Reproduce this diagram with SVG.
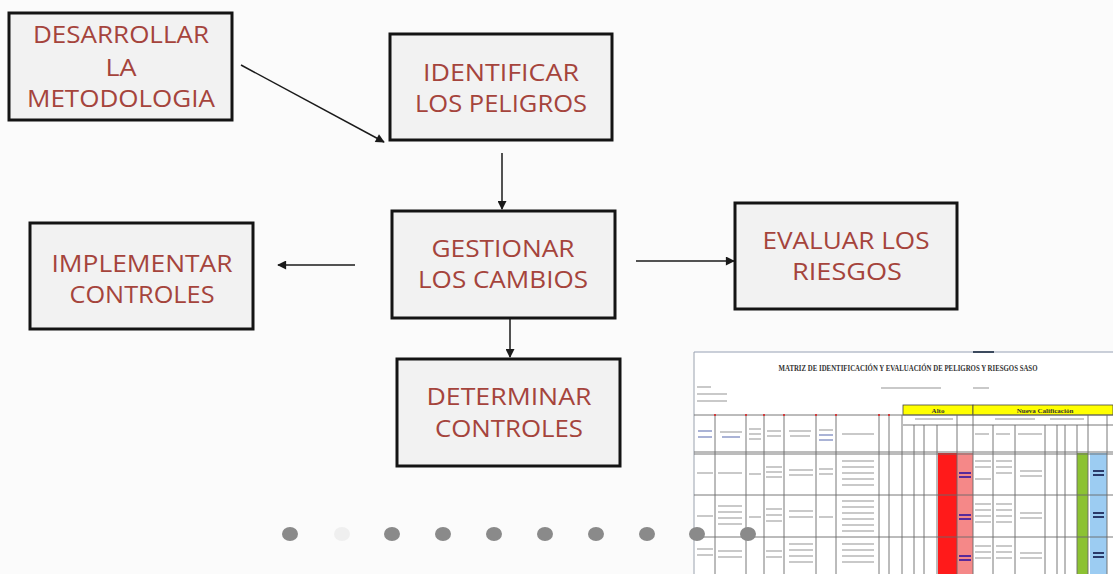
<svg xmlns="http://www.w3.org/2000/svg" width="1113" height="574" viewBox="0 0 1113 574">
<defs>
<style>
.box{fill:#f2f2f2;stroke:#141414;stroke-width:3}
.lbl{font-family:"Open Sans","Noto Sans","Liberation Sans",sans-serif;font-size:24px;fill:#a5443c;text-anchor:middle}
.con{stroke:#1a1a1a;stroke-width:1.5;fill:none;marker-end:url(#ah)}
.grid{stroke:#6a6a6a;stroke-width:0.9;fill:none}
.blur{fill:#c9c9c9}
.dot{fill:#8a8a8a}
.tiny{font-family:"Liberation Serif",serif;font-weight:bold;fill:#333}
</style>
<marker id="ah" viewBox="0 0 10 10" refX="9" refY="5" markerWidth="10" markerHeight="9" markerUnits="userSpaceOnUse" orient="auto">
<path d="M0,0 L10,5 L0,10 z" fill="#1a1a1a"/>
</marker>
</defs>
<rect x="0" y="0" width="1113" height="574" fill="#fbfbfb"/>

<g id="connectors">
<line class="con" x1="241" y1="65" x2="384" y2="142"/>
<line class="con" x1="502" y1="153" x2="502" y2="209"/>
<line class="con" x1="510" y1="318" x2="510" y2="357"/>
<line class="con" x1="636" y1="261" x2="734" y2="261"/>
<line class="con" x1="355" y1="265" x2="278" y2="265"/>
</g>

<g id="node-desarrollar">
<rect class="box" x="9" y="13" width="223" height="107"/>
<text class="lbl" x="121" y="43" textLength="176" lengthAdjust="spacingAndGlyphs">DESARROLLAR</text>
<text class="lbl" x="121" y="76" textLength="31" lengthAdjust="spacingAndGlyphs">LA</text>
<text class="lbl" x="121" y="107" textLength="188" lengthAdjust="spacingAndGlyphs">METODOLOGIA</text>
</g>

<g id="node-identificar">
<rect class="box" x="390" y="34" width="222" height="106"/>
<text class="lbl" x="501" y="81" textLength="156" lengthAdjust="spacingAndGlyphs">IDENTIFICAR</text>
<text class="lbl" x="501" y="112" textLength="172" lengthAdjust="spacingAndGlyphs">LOS PELIGROS</text>
</g>

<g id="node-gestionar">
<rect class="box" x="392" y="211" width="223" height="107"/>
<text class="lbl" x="503" y="257" textLength="143" lengthAdjust="spacingAndGlyphs">GESTIONAR</text>
<text class="lbl" x="503" y="288" textLength="170" lengthAdjust="spacingAndGlyphs">LOS CAMBIOS</text>
</g>

<g id="node-determinar">
<rect class="box" x="397" y="359" width="223" height="107"/>
<text class="lbl" x="509" y="405" textLength="165" lengthAdjust="spacingAndGlyphs">DETERMINAR</text>
<text class="lbl" x="509" y="437" textLength="148" lengthAdjust="spacingAndGlyphs">CONTROLES</text>
</g>

<g id="node-evaluar">
<rect class="box" x="735" y="203" width="222" height="106"/>
<text class="lbl" x="846" y="249" textLength="167" lengthAdjust="spacingAndGlyphs">EVALUAR LOS</text>
<text class="lbl" x="847" y="280" textLength="110" lengthAdjust="spacingAndGlyphs">RIESGOS</text>
</g>

<g id="node-implementar">
<rect class="box" x="30" y="223" width="223" height="106"/>
<text class="lbl" x="142" y="272" textLength="181" lengthAdjust="spacingAndGlyphs">IMPLEMENTAR</text>
<text class="lbl" x="142" y="303" textLength="145" lengthAdjust="spacingAndGlyphs">CONTROLES</text>
</g>

<g id="matrix">
<rect x="694" y="352" width="419" height="222" fill="#ffffff"/>
<line x1="694" y1="352" x2="1113" y2="352" stroke="#b8bfcc" stroke-width="1.5"/>
<line x1="973" y1="352" x2="994" y2="352" stroke="#3c4a5e" stroke-width="2"/>
<line x1="694" y1="352" x2="694" y2="574" stroke="#9aa2ae" stroke-width="1"/>
<text class="tiny" font-size="9" text-anchor="middle" transform="translate(908,371) scale(0.76,1)">MATRIZ DE IDENTIFICACIÓN Y EVALUACIÓN DE  PELIGROS Y RIESGOS SASO</text>
<rect class="blur" x="697" y="386" width="14" height="2"/>
<rect class="blur" x="697" y="393" width="30" height="2"/>
<rect class="blur" x="697" y="400" width="30" height="2"/>
<rect class="blur" x="881" y="387" width="60" height="2" fill="#b3b3c9"/>
<rect class="blur" x="973" y="387" width="16" height="2"/>
<rect x="903" y="405" width="70" height="10" fill="#ffff00" stroke="#444" stroke-width="0.8"/>
<rect x="973" y="405" width="140" height="10" fill="#ffff00" stroke="#444" stroke-width="0.8"/>
<text class="tiny" x="938" y="413" font-size="7" text-anchor="middle" fill="#6b6b00">Alto</text>
<text class="tiny" x="1045" y="413" font-size="7" text-anchor="middle" fill="#6b6b00">Nueva Calificación</text>
<rect x="938" y="453" width="19" height="121" fill="#ff1a1a"/>
<rect x="957" y="453" width="16" height="121" fill="#f58888"/>
<rect x="1077" y="453" width="11" height="121" fill="#8cc232"/>
<rect x="1090" y="453" width="17" height="121" fill="#9cccf2"/>
<path class="grid" d="M694,415H1113M903,425H1113M694,452H1113M694,454H1113M694,495H1113M694,537H1113"/>
<path class="grid" d="M715,415V574M746,415V574M764,415V574M784,415V574M816,415V574M836,415V574M879,415V574M889,415V574M902,415V574M914,425V574M924,425V574M937,425V574M957,415V574M973,415V574M993,425V574M1015,425V574M1045,425V574M1057,425V574M1065,425V574M1077,425V574M1088,415V574M1107,415V574"/>
<g fill="#d23b3b">
<rect x="714" y="414" width="2" height="2"/><rect x="745" y="414" width="2" height="2"/><rect x="763" y="414" width="2" height="2"/><rect x="783" y="414" width="2" height="2"/><rect x="815" y="414" width="2" height="2"/><rect x="835" y="414" width="2" height="2"/><rect x="878" y="414" width="2" height="2"/><rect x="888" y="414" width="2" height="2"/>
</g>
<g class="blur">
<rect x="698" y="430" width="14" height="2" fill="#aab3d6"/><rect x="698" y="436" width="14" height="2" fill="#aab3d6"/>
<rect x="720" y="431" width="22" height="2"/><rect x="722" y="436" width="18" height="2" fill="#aab3d6"/>
<rect x="749" y="428" width="12" height="2"/><rect x="749" y="433" width="12" height="2"/><rect x="749" y="438" width="12" height="2"/>
<rect x="767" y="430" width="14" height="2"/><rect x="767" y="435" width="14" height="2"/>
<rect x="789" y="430" width="22" height="2"/><rect x="790" y="435" width="20" height="2"/>
<rect x="819" y="429" width="14" height="2"/><rect x="819" y="434" width="14" height="2" fill="#aab3d6"/><rect x="819" y="439" width="14" height="2" fill="#aab3d6"/>
<rect x="842" y="433" width="32" height="2"/>
<rect x="975" y="433" width="14" height="2"/><rect x="996" y="433" width="14" height="2"/><rect x="1018" y="433" width="24" height="2"/>
<rect x="915" y="418" width="38" height="2"/><rect x="995" y="418" width="40" height="2"/><rect x="1050" y="418" width="34" height="2"/>
<rect x="697" y="472" width="16" height="2"/><rect x="718" y="472" width="24" height="2"/><rect x="749" y="473" width="12" height="2"/>
<rect x="766" y="466" width="16" height="2"/><rect x="766" y="471" width="16" height="2"/><rect x="766" y="476" width="16" height="2"/>
<rect x="789" y="469" width="24" height="2"/><rect x="789" y="474" width="24" height="2"/><rect x="819" y="468" width="14" height="2"/><rect x="819" y="473" width="14" height="2"/>
<rect x="842" y="460" width="32" height="2"/><rect x="842" y="466" width="32" height="2"/><rect x="842" y="472" width="32" height="2"/><rect x="842" y="478" width="32" height="2"/><rect x="842" y="484" width="32" height="2"/>
<rect x="697" y="515" width="16" height="2"/><rect x="718" y="505" width="24" height="2"/><rect x="718" y="511" width="24" height="2"/><rect x="718" y="517" width="24" height="2"/><rect x="718" y="523" width="24" height="2"/>
<rect x="749" y="516" width="12" height="2"/><rect x="766" y="508" width="16" height="2"/><rect x="766" y="514" width="16" height="2"/><rect x="766" y="520" width="16" height="2"/>
<rect x="789" y="510" width="24" height="2"/><rect x="789" y="516" width="24" height="2"/><rect x="819" y="516" width="14" height="2"/>
<rect x="842" y="500" width="32" height="2"/><rect x="842" y="506" width="32" height="2"/><rect x="842" y="512" width="32" height="2"/><rect x="842" y="518" width="32" height="2"/><rect x="842" y="524" width="32" height="2"/><rect x="842" y="530" width="32" height="2"/>
<rect x="697" y="548" width="16" height="2"/><rect x="697" y="554" width="16" height="2"/><rect x="718" y="550" width="24" height="2"/><rect x="718" y="556" width="24" height="2"/>
<rect x="766" y="550" width="16" height="2"/><rect x="766" y="556" width="16" height="2"/><rect x="789" y="543" width="24" height="2"/><rect x="789" y="549" width="24" height="2"/><rect x="789" y="555" width="24" height="2"/><rect x="789" y="561" width="24" height="2"/>
<rect x="842" y="543" width="32" height="2"/><rect x="842" y="549" width="32" height="2"/><rect x="842" y="555" width="32" height="2"/><rect x="842" y="561" width="32" height="2"/>
<rect x="975" y="460" width="16" height="2"/><rect x="975" y="466" width="16" height="2"/><rect x="975" y="478" width="16" height="2"/><rect x="996" y="460" width="16" height="2"/><rect x="996" y="466" width="16" height="2"/><rect x="996" y="472" width="16" height="2"/><rect x="1020" y="470" width="22" height="2"/><rect x="1020" y="475" width="22" height="2"/>
<rect x="975" y="503" width="16" height="2"/><rect x="975" y="509" width="16" height="2"/><rect x="975" y="515" width="16" height="2"/><rect x="975" y="521" width="16" height="2"/><rect x="996" y="503" width="16" height="2"/><rect x="996" y="509" width="16" height="2"/><rect x="996" y="515" width="16" height="2"/><rect x="996" y="521" width="16" height="2"/><rect x="1020" y="512" width="22" height="2"/><rect x="1020" y="517" width="22" height="2"/>
<rect x="975" y="545" width="16" height="2"/><rect x="975" y="551" width="16" height="2"/><rect x="975" y="557" width="16" height="2"/><rect x="996" y="545" width="16" height="2"/><rect x="996" y="551" width="16" height="2"/><rect x="996" y="557" width="16" height="2"/><rect x="1020" y="552" width="22" height="2"/><rect x="1020" y="557" width="22" height="2"/>
</g>
<g fill="#5a2a9a">
<rect x="959" y="472" width="12" height="2"/><rect x="959" y="476" width="12" height="2"/>
<rect x="959" y="514" width="12" height="2"/><rect x="959" y="518" width="12" height="2"/>
<rect x="959" y="555" width="12" height="2"/><rect x="959" y="559" width="12" height="2"/>
</g>
<g fill="#2a3a6a">
<rect x="1093" y="470" width="11" height="2"/><rect x="1093" y="474" width="11" height="2"/>
<rect x="1093" y="512" width="11" height="2"/><rect x="1093" y="516" width="11" height="2"/>
<rect x="1093" y="552" width="11" height="2"/><rect x="1093" y="556" width="11" height="2"/>
</g>
</g>

<g id="pager">
<ellipse class="dot" cx="290" cy="534" rx="8" ry="7"/>
<ellipse cx="342" cy="534" rx="8" ry="7" fill="#efefef"/>
<ellipse class="dot" cx="392" cy="534" rx="8" ry="7"/>
<ellipse class="dot" cx="443" cy="534" rx="8" ry="7"/>
<ellipse class="dot" cx="494" cy="534" rx="8" ry="7"/>
<ellipse class="dot" cx="545" cy="534" rx="8" ry="7"/>
<ellipse class="dot" cx="596" cy="534" rx="8" ry="7"/>
<ellipse class="dot" cx="647" cy="534" rx="8" ry="7"/>
<ellipse class="dot" cx="697" cy="534" rx="8" ry="7"/>
<ellipse class="dot" cx="748" cy="534" rx="8" ry="7"/>
</g>
</svg>
